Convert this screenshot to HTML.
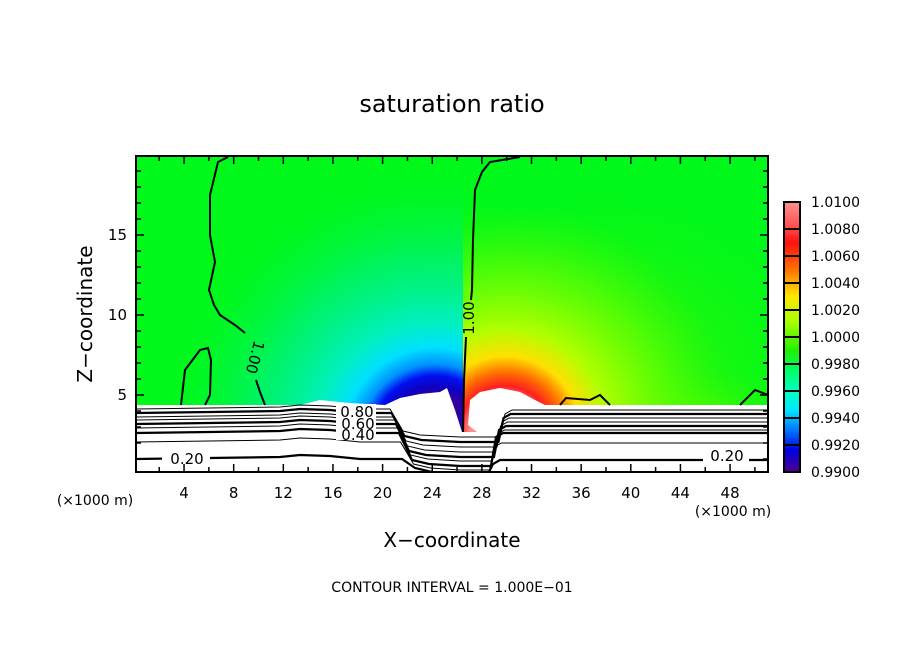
<!DOCTYPE html>
<html><head><meta charset="utf-8"><style>
html,body{margin:0;padding:0;background:#fff;}
svg{display:block;font-family:"DejaVu Sans","Liberation Sans",sans-serif;}
</style></head><body>
<svg id="chart" width="904" height="654" viewBox="0 0 904 654">
<defs>
  <clipPath id="plotclip"><rect x="136" y="156" width="632" height="316"/></clipPath>
  <clipPath id="leftclip"><rect x="136" y="156" width="327" height="316"/></clipPath>
  <clipPath id="rightclip"><rect x="463" y="156" width="305" height="316"/></clipPath>
  <radialGradient id="blueplume" gradientUnits="userSpaceOnUse" cx="435" cy="440" r="280">
    <stop offset="0.16" stop-color="#3000a0"/>
    <stop offset="0.19" stop-color="#1000c0"/>
    <stop offset="0.23" stop-color="#0010f0"/>
    <stop offset="0.27" stop-color="#0090ff"/>
    <stop offset="0.33" stop-color="#00e0ff"/>
    <stop offset="0.42" stop-color="#00f0c0"/>
    <stop offset="0.65" stop-color="#00f090" stop-opacity="0.6"/>
    <stop offset="1" stop-color="#00f81a" stop-opacity="0"/>
  </radialGradient>
  <radialGradient id="redplume" gradientUnits="userSpaceOnUse" cx="505" cy="432" r="230">
    <stop offset="0.15" stop-color="#ff9090"/>
    <stop offset="0.2" stop-color="#ff2020"/>
    <stop offset="0.26" stop-color="#ff7000"/>
    <stop offset="0.33" stop-color="#ffe000"/>
    <stop offset="0.45" stop-color="#b0ff00"/>
    <stop offset="0.72" stop-color="#70ff00" stop-opacity="0.6"/>
    <stop offset="1" stop-color="#40f800" stop-opacity="0"/>
  </radialGradient>
  <radialGradient id="ygwide" cx="0.5" cy="0.7" r="0.6">
    <stop offset="0" stop-color="#60f800" stop-opacity="0.7"/>
    <stop offset="1" stop-color="#30f800" stop-opacity="0"/>
  </radialGradient>
  <linearGradient id="cbar" x1="0" y1="0" x2="0" y2="1">
    <stop offset="0" stop-color="#ff9090"/>
    <stop offset="0.09" stop-color="#ff5050"/>
    <stop offset="0.15" stop-color="#ff1010"/>
    <stop offset="0.25" stop-color="#ff7000"/>
    <stop offset="0.35" stop-color="#ffe800"/>
    <stop offset="0.45" stop-color="#a0ff00"/>
    <stop offset="0.55" stop-color="#20f000"/>
    <stop offset="0.62" stop-color="#00ff60"/>
    <stop offset="0.7" stop-color="#00ffc0"/>
    <stop offset="0.77" stop-color="#00e8ff"/>
    <stop offset="0.85" stop-color="#0070ff"/>
    <stop offset="0.92" stop-color="#0000e0"/>
    <stop offset="1" stop-color="#500090"/>
  </linearGradient>
</defs>

<text x="452" y="112" font-size="24" text-anchor="middle">saturation ratio</text>

<g id="plot" clip-path="url(#plotclip)">
  <rect x="136" y="156" width="632" height="316" fill="#00f81a"/>
  <ellipse cx="600" cy="320" rx="190" ry="160" fill="url(#ygwide)"/>
  <ellipse cx="700" cy="400" rx="80" ry="40" fill="url(#ygwide)"/>
  <g clip-path="url(#leftclip)"><rect x="136" y="156" width="327" height="316" fill="url(#blueplume)"/></g>
  <g clip-path="url(#rightclip)"><rect x="463" y="156" width="305" height="316" fill="url(#redplume)"/></g>
  <polygon id="terrain" fill="#fff" points="136,405 300,405 320,400 350,403 385,405 400,398 420,394 440,392 447,388 455,410 462,432 477,432 468,425 470,400 480,392 500,388 520,392 535,400 545,405 768,405 768,472 136,472"/>
  <g id="contours" fill="none" stroke="#000"></g>
</g>
<rect x="136" y="156" width="632" height="316" fill="none" stroke="#000" stroke-width="2"/>
<g id="ticks" stroke="#000" stroke-width="1.5"></g>
<g id="labels" font-size="15"></g>

<text x="95" y="505" font-size="14" text-anchor="middle">(×1000 m)</text>
<text x="733" y="516" font-size="14" text-anchor="middle">(×1000 m)</text>
<text x="452" y="547" font-size="20" text-anchor="middle">X−coordinate</text>
<text x="92" y="314" font-size="20" text-anchor="middle" transform="rotate(-90 92 314)">Z−coordinate</text>
<text x="452" y="592" font-size="14" text-anchor="middle">CONTOUR INTERVAL = 1.000E−01</text>

<rect x="784" y="202" width="16" height="270" fill="url(#cbar)" stroke="#000" stroke-width="2"/>
<g id="cbticks"></g>
</svg>
<script>
const xTicks=[4,8,12,16,20,24,28,32,36,40,44,48];
const yTicks=[5,10,15];
const cbLabels=["1.0100","1.0080","1.0060","1.0040","1.0020","1.0000","0.9980","0.9960","0.9940","0.9920","0.9900"];
const contourLeftY=[409,413,417,420,424,428,433,442,459];
const contourDipY=[437,442,447,452,457,461,466,470,474];
const contourRightY=[410,414,418,422,426,430,433,443,460];
const contourThick=[0,1,0,0,1,0,1,0,1];
const NS='http://www.w3.org/2000/svg';
const sx=k=>134.4+12.41*k;
const sz=z=>475-16*z;
function mk(tag,attrs,parent){const e=document.createElementNS(NS,tag);for(const k in attrs)e.setAttribute(k,attrs[k]);parent.appendChild(e);return e;}
const tk=document.getElementById('ticks'),lb=document.getElementById('labels');
for(let k=2;k<=50;k+=2){const x=sx(k);if(x<=136||x>=768)continue;const L=(k%4===0)?8:5;
 let t=mk('line',{x1:x,x2:x,y1:472,y2:472-L},tk);
 t=mk('line',{x1:x,x2:x,y1:156,y2:156+L},tk);}
xTicks.forEach(k=>{const t=mk('text',{x:sx(k),y:498,'text-anchor':'middle'},lb);t.textContent=k;
 });
for(let z=1;z<=19;z++){const y=sz(z);const L=(z%5===0)?8:5;
 let t=mk('line',{x1:136,x2:136+L,y1:y,y2:y},tk);
 t=mk('line',{x1:768,x2:768-L,y1:y,y2:y},tk);}
yTicks.forEach(z=>{const t=mk('text',{x:127,y:sz(z)+5,'text-anchor':'end'},lb);t.textContent=z;
 });
const cb=document.getElementById('cbticks');
cbLabels.forEach((s,i)=>{const y=202+i*27;
 let l=mk('line',{x1:784,x2:800,y1:y,y2:y,stroke:'#000','stroke-width':2},cb);
 const t=mk('text',{x:811,y:y+5,'font-size':14},cb);t.textContent=s;});
const cg=document.getElementById('contours');
contourLeftY.forEach((ly,i)=>{const dy=contourDipY[i],ry=contourRightY[i];const o=i*1.5;
 const pts=[[136,ly],[280,ly-2],[300,ly-4],[330,ly-3],[360,ly],[390+o,ly],[403+o,dy-6],[420+o,dy-2],[460,dy],[500-o,dy],[505-o,ry+4],[512-o,ry],[600,ry],[700,ry],[768,ry]];
 const p=mk('polyline',{points:pts.map(q=>q.join(',')).join(' '),'stroke-width':contourThick[i]?2.2:1},cg);
 });
const c1=[[228,157],[218,162],[210,195],[210,235],[215,262],[209,290],[214,305],[220,315],[235,325],[245,333]];
const c1b=[[256,380],[260,392],[265,405]];
const loop=[[181,405],[185,370],[200,350],[208,348],[211,360],[210,395],[205,405]];
const c2=[[520,157],[490,162],[482,172],[475,190],[473,240],[472,290],[471,300]];
const c2b=[[466,337],[464,380],[463,432]];
const bumps=[[560,405],[566,398],[590,400],[600,395],[610,405]];
const bumpR=[[740,405],[755,390],[768,395]];
[c1,c1b,loop,c2,c2b,bumps,bumpR].forEach(a=>{const p=mk('polyline',{points:a.map(q=>q.join(',')).join(' '),'stroke-width':2},cg);
 });
function lab(t,x,y,rot,name){const e=mk('text',{x:x,y:y,'font-size':15,'text-anchor':'middle',transform:rot?`rotate(${rot} ${x} ${y})`:''},cg);e.setAttribute('stroke','none');e.setAttribute('fill','#000');e.textContent=t;
 }
lab('1.00',250,356,105,'contour-label-left');lab('1.00',474,318,-90,'contour-label-right');
const w=mk('rect',{x:336,y:404,width:40,height:36,fill:'#fff',stroke:'none'},cg);
lab('0.80',357,417,0,'contour-label-080');lab('0.60',358,429,0,'contour-label-060');lab('0.40',358,440,0,'contour-label-040');
const w2=mk('rect',{x:162,y:450,width:48,height:16,fill:'#fff',stroke:'none'},cg);
const w3=mk('rect',{x:703,y:450,width:46,height:16,fill:'#fff',stroke:'none'},cg);
lab('0.20',187,464,0,'contour-label-020-left');lab('0.20',727,461,0,'contour-label-020-right');
</script>
</body></html>
